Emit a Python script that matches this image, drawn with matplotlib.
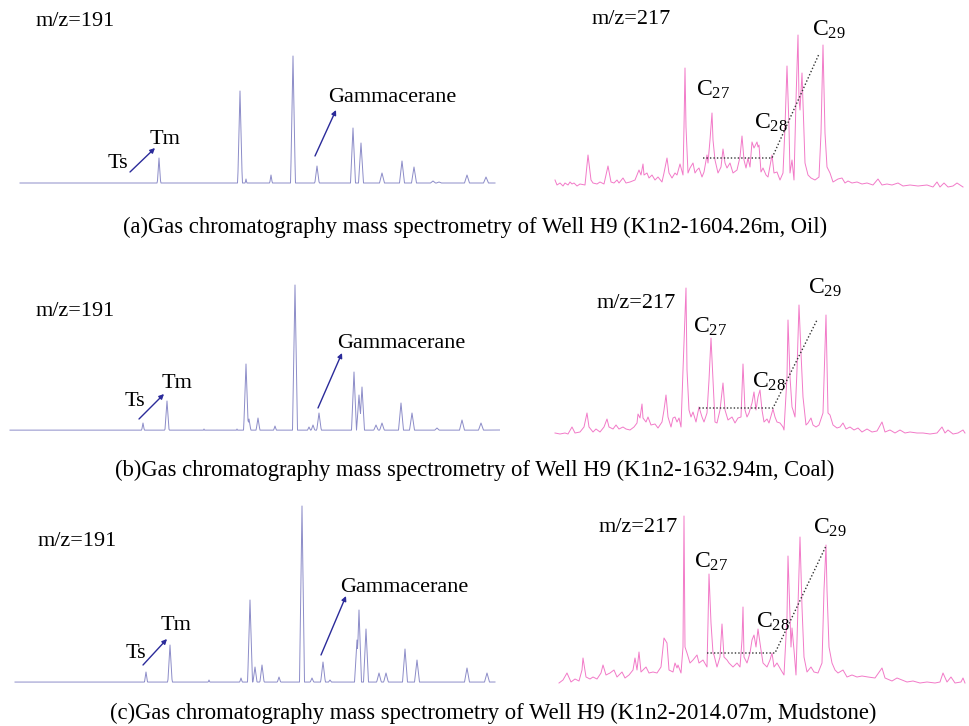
import numpy as np
import matplotlib
matplotlib.use("Agg")
import matplotlib.pyplot as plt

plt.rcParams["font.family"] = ["Liberation Serif", "DejaVu Serif"]
plt.rcParams["mathtext.fontset"] = "custom"
plt.rcParams["mathtext.rm"] = "Liberation Serif"

# ---- m/z 191 (terpanes): baseline knots and peak apexes, scan vs abundance ----
a191_base_scan = [20, 130, 200, 233, 290, 300, 350, 495]
a191_base_abund = [11, 13, 16, 18, 20, 23, 27, 27]
a191_peak_scan = [50, 59, 97, 110, 134, 159, 182, 199, 213, 233, 240, 246, 254, 271,
                  285, 293, 303, 317, 353, 361, 382, 402, 414, 433, 439, 467, 486]
a191_peak_abund = [15, 16, 14, 15, 24, 52, 18, 20, 18, 21, 119, 31, 27, 35,
                   22, 154, 24, 44, 82, 67, 37, 49, 43, 29, 28, 35, 33]

b191_base_scan = [10, 130, 230, 290, 350, 500]
b191_base_abund = [10, 13, 15, 17, 19, 20]
b191_peak_scan = [71, 107, 118, 143, 157, 167, 204, 207, 237, 246, 249, 258, 275,
                  295, 309, 313, 319, 354, 359, 362, 376, 382, 401, 412, 437, 462, 481]
b191_peak_abund = [16, 14, 14, 27, 17, 49, 21, 19, 21, 86, 31, 32, 24,
                   165, 23, 25, 37, 78, 55, 63, 25, 27, 47, 37, 22, 30, 27]

c191_base_scan = [15, 130, 240, 300, 350, 495]
c191_base_abund = [9, 11, 14, 16, 17, 18]
c191_peak_scan = [75, 110, 146, 162, 170, 209, 241, 250, 255, 262, 279, 302, 312,
                  323, 330, 357, 359, 366, 379, 386, 405, 417, 467, 487]
c191_peak_abund = [13, 12, 28, 16, 55, 20, 22, 100, 33, 35, 23, 194, 22,
                   38, 20, 60, 90, 71, 27, 27, 51, 40, 32, 27]

a217_scan = [15, 17, 20, 23, 25, 28, 30, 32, 34, 37, 40, 45, 48, 51, 53, 57, 60, 64,
             68, 71, 74, 77, 79, 83, 86, 90, 95, 97, 99, 101, 103, 104, 107, 109,
             112, 115, 118, 122, 124, 127, 129, 132, 135, 137, 140, 143, 144, 145,
             146, 148, 150, 153, 155, 157, 159, 162, 164, 167, 168, 170, 172, 173,
             175, 178, 181, 183, 185, 187, 190, 193, 197, 200, 202, 204, 206, 208,
             210, 212, 214, 217, 218, 219, 221, 223, 226, 228, 232, 234, 237, 240,
             243, 245, 247, 249, 250, 252, 254, 256, 258, 259, 260, 262, 264, 265,
             268, 271, 275, 279, 281, 283, 285, 287, 290, 293, 298, 302, 305, 308,
             312, 317, 322, 327, 333, 338, 342, 347, 352, 358, 363, 370, 378, 387,
             393, 397, 400, 404, 408, 413, 417, 423]
a217_abund = [30, 25, 27, 24, 27, 25, 28, 26, 27, 24, 26, 25, 55, 30, 27, 26, 28, 26,
              44, 28, 27, 30, 27, 32, 27, 28, 30, 35, 40, 35, 46, 35, 37, 32,
              35, 30, 33, 28, 37, 52, 37, 32, 37, 35, 46, 35, 83, 142,
              83, 37, 42, 47, 37, 40, 42, 33, 38, 55, 47, 70, 97, 70,
              50, 37, 43, 61, 47, 42, 47, 37, 40, 53, 74, 50, 42, 52,
              43, 68, 62, 68, 63, 65, 38, 42, 35, 33, 55, 37, 38, 30,
              37, 83, 144, 83, 37, 50, 30, 110, 175, 110, 100, 137, 77, 47,
              35, 32, 30, 33, 77, 165, 77, 43, 37, 28, 31, 32, 27, 29,
              27, 28, 26, 27, 25, 31, 25, 26, 25, 27, 24, 25, 24, 25,
              23, 28, 23, 27, 23, 24, 27, 23]

b217_scan = [15, 20, 25, 28, 32, 35, 40, 44, 47, 49, 53, 56, 60, 64, 67, 69, 73, 76,
             79, 83, 86, 90, 94, 97, 98, 100, 102, 103, 106, 108, 111, 115, 118,
             122, 124, 126, 128, 131, 133, 135, 137, 139, 141, 143, 146, 147, 149,
             151, 153, 156, 157, 159, 162, 164, 167, 169, 171, 173, 175, 177, 180,
             183, 185, 188, 192, 195, 198, 201, 203, 205, 207, 209, 212, 214, 216,
             218, 220, 222, 224, 227, 229, 233, 235, 237, 240, 243, 244, 247, 248,
             250, 252, 253, 255, 257, 259, 261, 263, 266, 268, 271, 273, 276, 279,
             283, 286, 288, 290, 293, 297, 300, 303, 306, 310, 314, 318, 322, 327,
             332, 337, 342, 345, 350, 355, 360, 365, 370, 377, 383, 390, 397, 402,
             405, 408, 413, 418, 423, 425]
b217_abund = [17, 16, 17, 16, 23, 17, 18, 23, 37, 23, 18, 21, 18, 23, 31, 23, 21, 25,
              21, 23, 21, 20, 23, 27, 36, 32, 46, 32, 28, 33, 25, 26, 22,
              28, 40, 55, 33, 23, 32, 33, 28, 32, 23, 80, 162, 80, 40,
              33, 38, 28, 33, 43, 33, 28, 37, 70, 112, 70, 28, 27, 40,
              67, 40, 30, 33, 27, 32, 33, 86, 40, 33, 37, 47, 58, 40,
              53, 60, 40, 28, 31, 27, 41, 33, 28, 27, 23, 20, 73, 130,
              73, 43, 40, 33, 80, 145, 97, 53, 25, 27, 32, 25, 23, 25,
              37, 135, 37, 35, 25, 22, 23, 27, 21, 23, 20, 22, 18, 21,
              18, 19, 28, 18, 20, 17, 20, 17, 18, 17, 17, 16, 17, 23,
              17, 20, 16, 17, 20, 17]

c217_scan = [19, 23, 27, 31, 35, 39, 42, 43, 46, 50, 53, 57, 61, 63, 66, 70, 74, 77,
             82, 85, 89, 93, 95, 97, 99, 101, 106, 109, 113, 117, 121, 124, 127,
             129, 133, 135, 137, 138, 141, 143, 144, 145, 147, 150, 153, 157, 159,
             163, 167, 168, 169, 171, 173, 174, 177, 180, 182, 184, 187, 189, 193,
             197, 200, 202, 203, 204, 207, 210, 212, 214, 216, 218, 221, 223, 227,
             230, 232, 234, 237, 241, 244, 247, 248, 250, 251, 252, 254, 256, 258,
             260, 262, 264, 267, 271, 274, 278, 282, 284, 286, 287, 289, 292, 295,
             298, 303, 307, 312, 317, 322, 328, 335, 342, 345, 352, 357, 362, 367,
             373, 380, 387, 395, 400, 403, 407, 411, 415, 421, 423, 425]
c217_abund = [17, 20, 27, 18, 21, 19, 30, 42, 23, 21, 23, 21, 27, 35, 25, 27, 30, 23,
              28, 22, 25, 30, 42, 30, 48, 28, 33, 27, 28, 27, 33, 62, 57,
              30, 28, 37, 32, 35, 27, 53, 184, 53, 47, 37, 40, 45, 37,
              40, 33, 77, 126, 77, 47, 45, 33, 43, 76, 43, 40, 37, 33,
              37, 33, 60, 93, 43, 37, 47, 60, 65, 53, 71, 50, 37, 33,
              40, 47, 33, 37, 30, 25, 83, 144, 83, 53, 72, 50, 25, 93,
              163, 93, 43, 28, 33, 28, 27, 37, 110, 155, 110, 53, 37, 30,
              27, 30, 23, 25, 23, 24, 23, 22, 32, 22, 19, 22, 20, 18,
              19, 17, 18, 17, 18, 27, 18, 23, 17, 18, 22, 17]

captions = [
    "(a)Gas chromatography mass spectrometry of Well H9 (K1n2-1604.26m, Oil)",
    "(b)Gas chromatography mass spectrometry of Well H9 (K1n2-1632.94m, Coal)",
    "(c)Gas chromatography mass spectrometry of Well H9 (K1n2-2014.07m, Mudstone)",
]

BLUE = "#8c8cc8"
PINK = "#f27ac8"
ARROW = "#2b2b9a"
W, H = 970, 726


def build_trace(base_scan, base_abund, peak_scan, peak_abund, half_width):
    """Baseline plus triangular peaks, sampled every half scan."""
    x = np.arange(base_scan[0], base_scan[-1] + 0.25, 0.5)
    y = np.interp(x, base_scan, base_abund)
    for p, top in zip(peak_scan, peak_abund):
        b = np.interp(p, base_scan, base_abund)
        tri = np.clip(1 - np.abs(x - p) / half_width, 0, None)
        y = np.maximum(y, b + (top - b) * tri)
    return x, y


def panel_axes(fig, left_px, top_px, width_px, height_px):
    ax = fig.add_axes([left_px / W, 1 - (top_px + height_px) / H, width_px / W, height_px / H])
    ax.set_xlim(0, width_px)
    ax.set_ylim(0, height_px)
    ax.axis("off")
    return ax


def draw_terpanes(ax, trace, mz_xy, ts_xy, tm_xy, ts_arrow, gam_xy, gam_arrow):
    x, y = build_trace(*trace, half_width=2.5)
    ax.plot(x, y, color=BLUE, lw=0.7)
    ax.text(*mz_xy, "m/z=191", fontsize=16, ha="left", va="center")
    ax.text(*ts_xy, "Ts", fontsize=16, ha="center", va="center")
    ax.text(*tm_xy, "Tm", fontsize=16, ha="center", va="center")
    ax.text(*gam_xy, "Gammacerane", fontsize=16, ha="left", va="center")
    for start, end in (ts_arrow, gam_arrow):
        ax.annotate("", xy=end, xytext=start,
                    arrowprops=dict(arrowstyle="-|>", color=ARROW, lw=1.0,
                                    mutation_scale=7, shrinkA=0, shrinkB=0))


def draw_steranes(ax, scan, abund, mz_xy, c27_xy, c28_xy, c29_xy, guide_x, guide_y):
    ax.plot(scan, abund, color=PINK, lw=0.7)
    ax.text(*mz_xy, "m/z=217", fontsize=16, ha="left", va="center")
    for xy, n in ((c27_xy, "27"), (c28_xy, "28"), (c29_xy, "29")):
        ax.text(*xy, r"$\mathrm{C_{%s}}$" % n, fontsize=17, ha="left", va="center")
    ax.plot(guide_x, guide_y, color="#333333", lw=1.0, ls=(0, (1, 1.5)))


fig = plt.figure(figsize=(W / 100, H / 100), dpi=100)

# (a) oil
ax = panel_axes(fig, 0, 0, 500, 210)
draw_terpanes(ax, (a191_base_scan, a191_base_abund, a191_peak_scan, a191_peak_abund),
              (36, 188), (118, 47), (165, 71), ((130, 38), (155, 62)),
              (328, 113), ((315, 54), (336, 100)))
ax = panel_axes(fig, 540, 0, 430, 210)
draw_steranes(ax, a217_scan, a217_abund,
              (52, 190), (156, 120), (214, 87), (272, 180),
              [163, 232, 279], [52, 52, 156])

# (b) coal
ax = panel_axes(fig, 0, 240, 500, 210)
draw_terpanes(ax, (b191_base_scan, b191_base_abund, b191_peak_scan, b191_peak_abund),
              (36, 138), (135, 49), (177, 66), ((139, 31), (164, 56)),
              (337, 107), ((318, 42), (342, 97)))
ax = panel_axes(fig, 540, 240, 430, 210)
draw_steranes(ax, b217_scan, b217_abund,
              (57, 147), (153, 123), (212, 68), (268, 162),
              [159, 233, 277], [42, 42, 130])

# (c) mudstone
ax = panel_axes(fig, 0, 490, 500, 210)
draw_terpanes(ax, (c191_base_scan, c191_base_abund, c191_peak_scan, c191_peak_abund),
              (38, 158), (136, 47), (176, 75), ((143, 35), (167, 61)),
              (340, 112), ((321, 45), (346, 104)))
ax = panel_axes(fig, 540, 490, 430, 210)
draw_steranes(ax, c217_scan, c217_abund,
              (59, 173), (154, 138), (216, 78), (273, 172),
              [167, 235, 286], [47, 47, 154])

for caption, y_px, x_px in zip(captions, (227, 470, 713), (475, 475, 493)):
    fig.text(x_px / W, 1 - y_px / H, caption, fontsize=16.3, ha="center", va="center")

fig.savefig("out.png", dpi=100)
